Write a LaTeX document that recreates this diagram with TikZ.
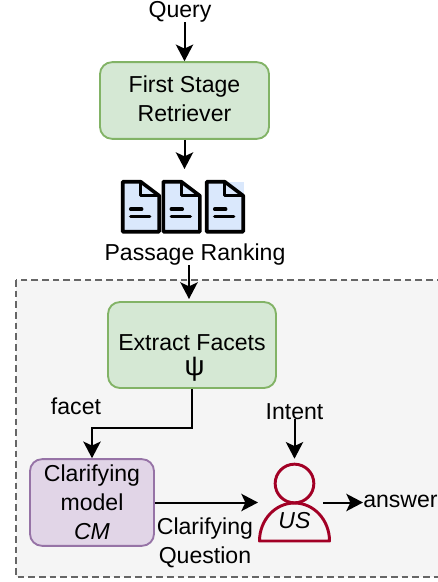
\documentclass[tikz,border=0pt]{standalone}
\usepackage{fontspec}
\setmainfont{Liberation Sans}
\usetikzlibrary{positioning,arrows.meta,shapes}
\definecolor{greenfill}{HTML}{D5E8D4}
\definecolor{greenline}{HTML}{82B366}
\definecolor{purplefill}{HTML}{E1D5E7}
\definecolor{purpleline}{HTML}{9673A6}
\definecolor{docfill}{HTML}{DAE8FC}
\definecolor{usercolor}{HTML}{A20025}
\tikzset{
  every node/.style={inner sep=0pt,font=\fontsize{17.3}{21.75}\selectfont,align=center,text=black},
  flow/.style={draw=black,line width=1.5pt,-{Stealth[length=12.5pt,width=13pt,inset=3pt]}},
  stagebox/.style={draw=greenline,fill=greenfill,line width=1.4pt,rounded corners=9pt},
  modelbox/.style={draw=purpleline,fill=purplefill,line width=1.4pt,rounded corners=9pt},
  usermark/.style={draw=usercolor,line width=2.2pt},
}
\begin{document}
\begin{tikzpicture}[x=0.75pt,y=0.75pt]
\useasboundingbox (0,0) rectangle (437,-582);
% dashed region
\draw [fill=black!4,draw=black!60,dashed,line width=1pt,dash pattern=on 5pt off 3pt] (16,-280) rectangle (450,-577);
% boxes
\node [stagebox,minimum width=126.75pt,minimum height=57.5pt,text depth=3pt] (first) at (184.5,-100.5) {First Stage\\Retriever};
\node [stagebox,minimum width=126pt,minimum height=64.5pt] (extract) at (192,-345) {};
\node [modelbox,minimum width=93pt,minimum height=65pt] (cm) at (92,-502.5) {Clarifying\\model\\\textit{CM}};
% labels
\node [anchor=base] (extracttext) at (192,-350) {Extract Facets};
\node [anchor=base] (psi) at (194.5,-375) {\fontsize{21}{21}\selectfont ψ};
\node [anchor=base] (query) at (180,-17) {Query};
\node [anchor=base] (ranking) at (195,-260) {Passage Ranking};
\node [anchor=base] (facet) at (76,-414) {facet};
\node [anchor=base] (intent) at (294.5,-419) {Intent};
\node [anchor=base west] (answer) at (363,-507) {answer};
\node [below=11pt of cm.east,anchor=north,xshift=37.5pt] (question) {Clarifying\\Question};
% documents
\fill [docfill] (207,-181.5) rectangle (244,-196);
\foreach \docx in {122.7,163.3,206.7} {
  \begin{scope}[shift={(\docx,-181.7)}]
  \draw [fill=docfill,line width=2.7pt,line join=round] (0,0) -- (18,0) -- (36.5,-14) -- (36.5,-50) -- (0,-50) -- cycle;
  \draw [line width=2.4pt,line join=round] (18,0) -- (18,-14) -- (36.5,-14);
  \draw [line width=2.6pt,line cap=round] (8,-27.5) -- (19,-27.5);
  \draw [line width=2.6pt,line cap=round] (8,-35) -- (27,-35);
  \end{scope}
}
\coordinate (docstop) at (184.5,-169);
\coordinate (extractin) at (189,-299);
% user
\node [usermark,circle,minimum size=29pt] (head) at (294.5,-483.5) {};
\draw [usermark,line join=round] (259.5,-541) arc (180:0:35 and 38) -- cycle;
\node [anchor=base] (us) at (294.5,-528) {\textit{US}};
\coordinate (userin) at (258,-502.5);
\coordinate (userout) at (323,-502.5);
% connectors
\draw [flow] (first.north |- query.south) -- (first.north);
\draw [flow] (first.south) -- (docstop);
\draw [flow] (extractin |- ranking.south) -- (extractin);
\draw [flow] (extract.south) -- ++(0,-39) -| (cm.north);
\draw [flow] (cm.east) -- (userin);
\draw [flow,shorten >=3pt] (intent.south) -- (head.north);
\draw [flow] (userout) -- (userout -| answer.west);
\end{tikzpicture}
\end{document}
